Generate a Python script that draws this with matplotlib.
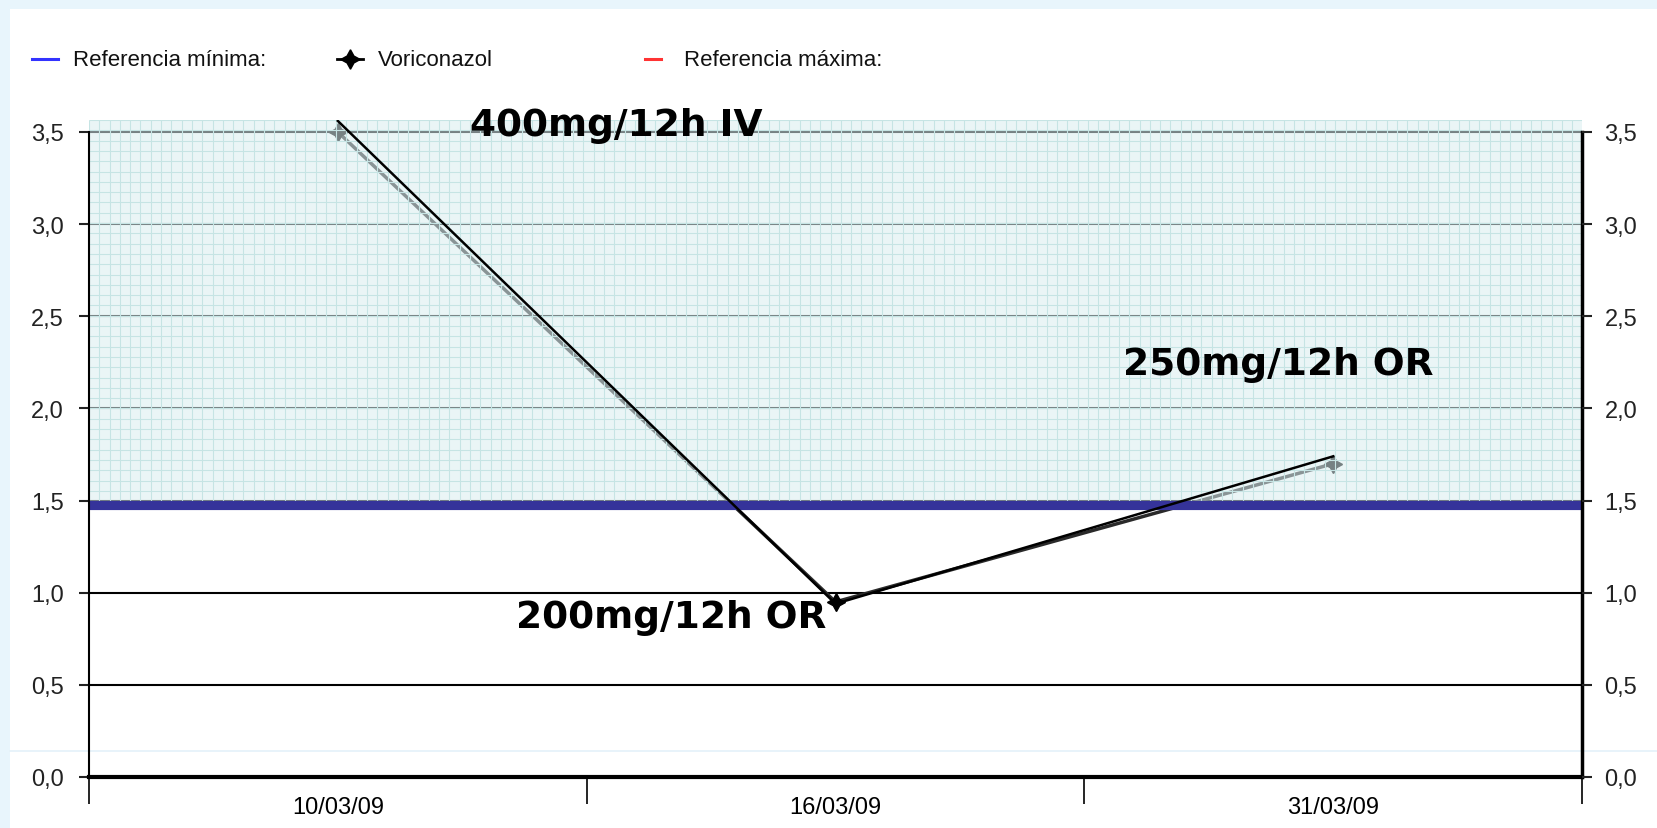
import matplotlib
matplotlib.use("Agg")
import matplotlib.pyplot as plt
import numpy as np
from matplotlib.lines import Line2D
from matplotlib.patches import Rectangle

# data
fechas = ["10/03/09", "16/03/09", "31/03/09"]
voriconazol = [3.50, 0.95, 1.70]
trazo_manual = [3.56, 0.94, 1.74]   # black line drawn over the series
ref_minima = 1.475
ref_maxima = 3.565
y_ticks = [0.0, 0.5, 1.0, 1.5, 2.0, 2.5, 3.0, 3.5]
y_labels = ["0,0", "0,5", "1,0", "1,5", "2,0", "2,5", "3,0", "3,5"]
notas = ["400mg/12h IV", "200mg/12h OR", "250mg/12h OR"]
notas_xy = [(0.56, 3.54), (0.67, 0.87), (1.89, 2.24)]

plt.rcParams['font.family'] = ['Liberation Sans', 'DejaVu Sans']

W, H = 1657, 829
fig = plt.figure(figsize=(W / 100, H / 100), dpi=100, facecolor='#e8f5fc')
fig.add_artist(Rectangle((10 / W, 0), 1 - 10 / W, 1 - 10 / H, transform=fig.transFigure,
                         facecolor='white', edgecolor='none', zorder=-3))
fig.add_artist(Line2D([10 / W, 1], [1 - 752 / H] * 2, transform=fig.transFigure,
                      color='#e4f1f9', lw=1.2, zorder=-2))

left, right = 89 / W, 1582 / W
bottom = 1 - 778 / H
top = 1 - 121 / H
ax = fig.add_axes([left, bottom, right - left, top - bottom])
ax.patch.set_alpha(0)

x = list(range(len(fechas)))
ax.set_xlim(-0.5, len(fechas) - 0.5)
ax.set_ylim(0, ref_maxima)

# horizontal gridlines
for v in y_ticks[1:]:
    ax.axhline(v, color='black', lw=1.5, zorder=1)

# series
ax.plot(x, voriconazol, color='#2a2a2a', lw=2.5, marker=(4, 1, 0), ms=13,
        markerfacecolor='black', markeredgecolor='black', zorder=2)

# reference band (semi transparent with fine grid, ~10 px cells)
banda_lo = ref_minima + 0.025
ax.axhspan(banda_lo, ref_maxima, facecolor=(0.85, 0.93, 0.94, 0.55), lw=0, zorder=3)
px_x = 3.0 / 1493
px_y = ref_maxima / 657
ax.vlines(np.arange(-0.5, 2.5, 10.3 * px_x), banda_lo, ref_maxima,
          color='#c6e4e4', lw=0.8, zorder=3.1)
ax.hlines(np.arange(ref_maxima, banda_lo, -10.3 * px_y), -0.5, 2.5,
          color='#c6e4e4', lw=0.8, zorder=3.1)
ax.axhline(ref_minima, color='#35339a', lw=6.6, zorder=4)

# hand drawn line on top
ax.plot(x, trazo_manual, color='black', lw=1.8, zorder=5)

for txt, (tx, ty) in zip(notas, notas_xy):
    ax.text(tx, ty, txt, fontsize=27, fontweight='bold', family='DejaVu Sans',
            ha='center', va='center', zorder=6)

# axes styling
ax.spines['top'].set_visible(False)
ax.spines['bottom'].set_linewidth(3)
ax.spines['left'].set_linewidth(1.5)
ax.spines['right'].set_linewidth(2.5)
ax.spines['left'].set_bounds(0, 3.5)
ax.spines['right'].set_bounds(0, 3.5)
for s in ax.spines.values():
    s.set_zorder(7)

ax.set_xticks([-0.5, 0.5, 1.5, 2.5])
ax.set_xticklabels([])
ax.tick_params(axis='x', which='major', length=19.4, width=1.2, direction='out')
ax.set_xticks(x, minor=True)
ax.set_xticklabels(fechas, minor=True, fontsize=17)
ax.tick_params(axis='x', which='minor', length=0, pad=14)

ax.set_yticks(y_ticks)
ax.set_yticklabels(y_labels, fontsize=17)
ax.tick_params(axis='y', length=7.2, width=1.5, pad=11, colors='#222222')

ax2 = ax.twinx()
ax2.set_ylim(ax.get_ylim())
ax2.set_yticks(y_ticks)
ax2.set_yticklabels(y_labels, fontsize=17)
ax2.tick_params(axis='y', length=7.2, width=1.5, pad=9, colors='#222222')
for s in ['top', 'left', 'bottom', 'right']:
    ax2.spines[s].set_visible(False)

# legend drawn by hand
ly = 1 - 60 / H
fig.add_artist(Line2D([32 / W, 58 / W], [ly, ly], color='#3333ff', lw=2.2))
fig.text(73 / W, ly, "Referencia mínima:", fontsize=16, va='center', color='#111111')
fig.add_artist(Line2D([337 / W, 363 / W], [ly, ly], color='black', lw=2))
fig.add_artist(Line2D([350 / W], [ly], marker=(4, 1, 0), ms=14, color='black'))
fig.text(378 / W, ly, "Voriconazol", fontsize=16, va='center', color='#111111')
fig.add_artist(Line2D([645 / W, 661 / W], [ly, ly], color='#ff3333', lw=2.2))
fig.text(684 / W, ly, "Referencia máxima:", fontsize=16, va='center', color='#111111')

fig.savefig("out.png", dpi=100, facecolor=fig.get_facecolor())
